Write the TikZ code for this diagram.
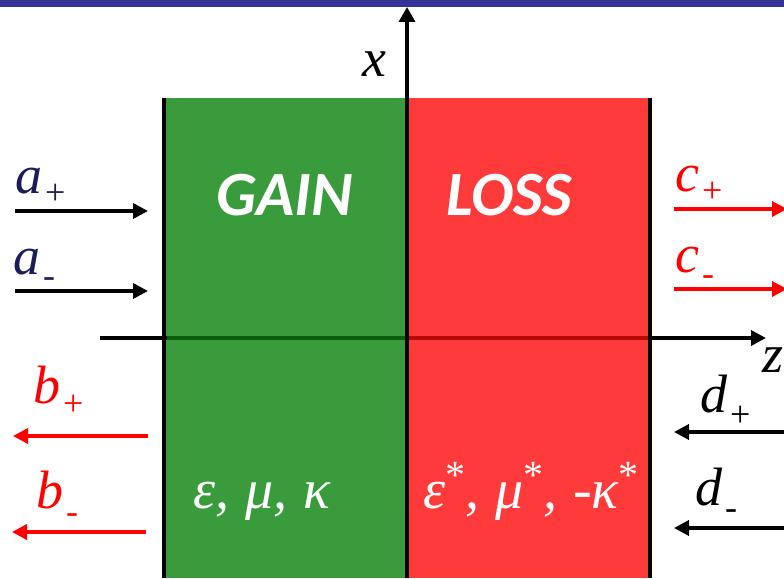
\documentclass[tikz,border=0pt]{standalone}
\usepackage{fontspec}
\setmainfont{Liberation Serif}
\newfontfamily\calib{Carlito}
\usetikzlibrary{arrows.meta}
\definecolor{gaingreen}{RGB}{58,155,60}
\definecolor{lossred}{RGB}{255,58,58}
\definecolor{barblue}{RGB}{51,51,153}
\definecolor{navy}{RGB}{28,28,88}
\definecolor{pured}{RGB}{255,0,0}
\definecolor{axgreen}{RGB}{10,95,15}
\definecolor{axred}{RGB}{185,10,10}
\newcommand\subsc[2]{\hspace{3pt}\raisebox{#1}{\fontsize{36}{36}\selectfont\upshape #2}}
\newcommand\supst{\raisebox{20pt}{\fontsize{40}{40}\selectfont\upshape *}}
\newcommand\gsp{\hspace{16pt}}
\begin{document}
\begin{tikzpicture}[x=1pt,y=-1pt,
  lbl/.style={anchor=base west,inner sep=0pt,font=\fontsize{54}{58}\selectfont\itshape},
  big/.style={anchor=base west,inner sep=0pt,text=white,font=\calib\bfseries\itshape\fontsize{63}{66}\selectfont},
  greek/.style={anchor=base west,inner sep=0pt,text=white,font=\fontsize{56}{60}\selectfont\itshape},
  arr/.style={line width=3.5pt,-{Triangle[length=15pt,width=15pt]}},
  axis/.style={line width=3.5pt},
  wall/.style={line width=4pt}]
\useasboundingbox (0,0) rectangle (784,578);
% top bar
\fill[barblue] (0,0) rectangle (784,7);
% slabs
\fill[gaingreen] (164,98) rectangle (407,578);
\fill[lossred] (407,98) rectangle (650,578);
% coordinates
\coordinate (zs) at (100,338);
\coordinate (ze) at (766,338);
\coordinate (xs) at (407,578);
\coordinate (xe) at (407,7);
\coordinate (gl) at (167,338);
\coordinate (gr) at (405,338);
\coordinate (rl) at (409,338);
\coordinate (rr) at (648,338);
\coordinate (lwt) at (164,98);
\coordinate (lwb) at (164,578);
\coordinate (rwt) at (650,98);
\coordinate (rwb) at (650,578);
% z axis
\draw[arr] (zs) -- (ze);
\draw[axis,axgreen] (gl) -- (gr);
\draw[axis,axred] (rl) -- (rr);
% walls and x axis
\draw[wall] (lwt) -- (lwb);
\draw[wall] (rwt) -- (rwb);
\draw[line width=3.5pt,-{Triangle[length=15pt,width=16pt]}] (xs) -- (xe);
% axis labels
\node[lbl] (xlab) at (362,77) {x};
\node[lbl] (zlab) at (762,372) {z};
% slab texts
\node[big] (gain) at (216,215) {GAIN};
\node[big] (loss) at (446,215) {LOSS};
\node[greek] (epsl) at (193,508) {ε,\gsp μ,\gsp κ};
\node[greek] (epsr) at (423,508) {ε\supst,\gsp μ\supst,\gsp -κ\supst};
% incoming / outgoing waves
\coordinate (a1s) at (15,211);  \coordinate (a1e) at (148,211);
\coordinate (a2s) at (15,291);  \coordinate (a2e) at (148,291);
\coordinate (b1s) at (148,436); \coordinate (b1e) at (13,436);
\coordinate (b2s) at (146,532); \coordinate (b2e) at (12,532);
\coordinate (c1s) at (674,209); \coordinate (c1e) at (787,209);
\coordinate (c2s) at (674,289); \coordinate (c2e) at (787,289);
\coordinate (d1s) at (787,432); \coordinate (d1e) at (674,432);
\coordinate (d2s) at (787,528); \coordinate (d2e) at (674,528);
\draw[arr] (a1s) -- (a1e);
\draw[arr] (a2s) -- (a2e);
\draw[arr,pured] (b1s) -- (b1e);
\draw[arr,pured] (b2s) -- (b2e);
\draw[arr,pured] (c1s) -- (c1e);
\draw[arr,pured] (c2s) -- (c2e);
\draw[arr] (d1s) -- (d1e);
\draw[arr] (d2s) -- (d2e);
\node[lbl,text=navy] (aplus) at (15,193) {a\subsc{-11pt}{+}};
\node[lbl,text=navy] (aminus) at (13,274) {a\subsc{-13pt}{-}};
\node[lbl,text=pured] (bplus) at (33,403) {b\subsc{-12pt}{+}};
\node[lbl,text=pured] (bminus) at (36,508) {b\subsc{-15pt}{-}};
\node[lbl,text=pured] (cplus) at (675,191) {c\subsc{-11pt}{+}};
\node[lbl,text=pured] (cminus) at (675,272) {c\subsc{-13pt}{-}};
\node[lbl] (dplus) at (700,412) {d\subsc{-14pt}{+}};
\node[lbl] (dminus) at (695,505) {d\subsc{-14pt}{-}};
\end{tikzpicture}
\end{document}
